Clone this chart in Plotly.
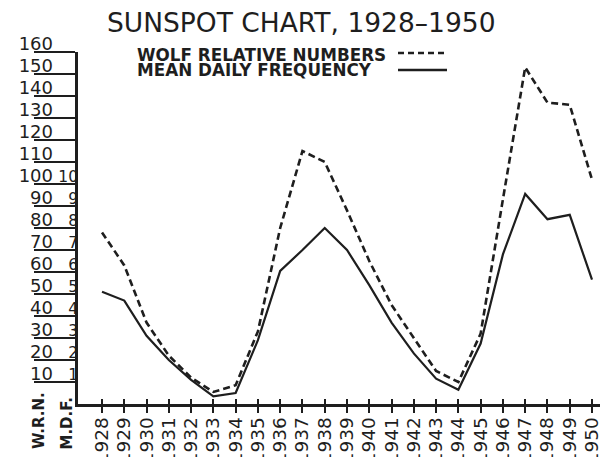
import plotly.graph_objects as go

years = list(range(1928, 1951))
year_labels = [str(y) for y in years]

# Wolf relative numbers (dashed)
wolf = [78, 63, 37, 22, 12, 5.5, 8.5, 33, 80, 115, 110, 88, 65, 45, 30, 15, 10, 32, 93, 153, 137, 136, 102]
# Mean daily frequency (solid)
mdf = [5.1, 4.7, 3.1, 2.0, 1.1, 0.35, 0.5, 2.9, 6.05, 7.0, 8.0, 7.0, 5.4, 3.7, 2.3, 1.15, 0.65, 2.75, 6.8, 9.55, 8.4, 8.6, 5.65]

wrn_ticks = list(range(10, 170, 10))
wrn_labels = [str(v) for v in wrn_ticks]
mdf_ticks = list(range(1, 11))
mdf_labels = [str(v) for v in mdf_ticks]

INK = "#1e1e1e"
FONT = "DejaVu Sans"

W, H = 601, 457
L, R, T, B = 0, 1, 52, 53
PW, PH = W - L - R, H - T - B
AX = 78  # pixel x of the vertical axis
xr = [1926.922, 1950.359]


def px(x):
    return (x - L) / PW


def py(y):
    return (H - B - y) / PH


fig = go.Figure()
fig.add_trace(go.Scatter(x=years, y=wolf, mode="lines", xaxis="x", yaxis="y",
                         line=dict(color=INK, width=2.6, dash="7px,4px"),
                         showlegend=False, hoverinfo="skip"))
fig.add_trace(go.Scatter(x=years, y=mdf, mode="lines", xaxis="x2", yaxis="y2",
                         line=dict(color=INK, width=2.2),
                         showlegend=False, hoverinfo="skip"))
# empty trace that registers the W.R.N. label axis
fig.add_trace(go.Scatter(x=[None], y=[None], xaxis="x", yaxis="y3", showlegend=False, hoverinfo="skip"))

common = dict(showgrid=False, zeroline=False, automargin=False)
fig.update_layout(
    template="none",
    width=W, height=H,
    margin=dict(l=L, r=R, t=T, b=B, pad=0, autoexpand=False),
    paper_bgcolor="white", plot_bgcolor="rgba(0,0,0,0)",
    font=dict(family=FONT, color=INK),
    xaxis=dict(domain=[px(AX), 1], range=xr, tickmode="array", tickvals=years, ticktext=year_labels,
               tickangle=-90, ticks="outside", ticklen=6, tickwidth=1.5, tickcolor=INK,
               showline=True, linewidth=2.5, linecolor=INK, ticklabeloverflow="allow",
               ticklabelstandoff=-3,
               tickfont=dict(size=18.5, family=FONT, color=INK), **common),
    xaxis2=dict(domain=[px(AX), 1], range=xr, overlaying="x", anchor="y", side="bottom", tickmode="array",
                tickvals=years, ticks="inside", ticklen=5, tickwidth=1.5, tickcolor=INK,
                showticklabels=False, showline=False, **common),
    yaxis=dict(range=[0, 160], tickmode="array", tickvals=wrn_ticks, showticklabels=False,
               ticks="outside", ticklen=41, tickwidth=2, tickcolor=INK,
               showline=True, linewidth=2.5, linecolor=INK, **common),
    yaxis3=dict(range=[0, 160], overlaying="y", anchor="free", position=px(53), side="left",
                tickmode="array", tickvals=wrn_ticks, ticktext=wrn_labels, ticks="",
                showline=False, tickfont=dict(size=18, family=FONT, color=INK),
                ticklabelshift=-8, ticklabeloverflow="allow", **common),
    yaxis2=dict(range=[0, 16], overlaying="y", anchor="free", position=px(AX), side="left",
                tickmode="array", tickvals=mdf_ticks, ticktext=mdf_labels, ticks="",
                showline=False, tickfont=dict(size=15.5, family=FONT, color=INK),
                ticklabelshift=-7, ticklabeloverflow="allow", **common),
)

# long scale rules under the W.R.N. / M.D.F. labels, one per W.R.N. tick value
for v in wrn_ticks:
    fig.add_shape(type="line", xref="paper", yref="y", x0=px(37), x1=px(AX), y0=v, y1=v,
                  line=dict(color=INK, width=2))

annotations = [
    dict(text="SUNSPOT CHART, 1928–1950", x=px(301), y=py(22), xanchor="center", yanchor="middle",
         font=dict(size=26.5, family=FONT, color=INK)),
    dict(text="<b>WOLF RELATIVE NUMBERS</b>", x=px(135), y=py(55.5), xanchor="left", yanchor="middle",
         font=dict(size=16.8, family=FONT, color=INK)),
    dict(text="<b>MEAN DAILY FREQUENCY</b>", x=px(135), y=py(70), xanchor="left", yanchor="middle",
         font=dict(size=16.8, family=FONT, color=INK)),
    dict(text="<b>W.R.N.</b>", x=px(39), y=py(421), xanchor="center", yanchor="middle", textangle=-90,
         font=dict(size=15, family=FONT, color=INK)),
    dict(text="<b>M.D.F.</b>", x=px(66.5), y=py(423), xanchor="center", yanchor="middle", textangle=-90,
         font=dict(size=15, family=FONT, color=INK)),
]
for a in annotations:
    a.update(xref="paper", yref="paper", showarrow=False)
fig.update_layout(annotations=annotations)

fig.add_shape(type="line", xref="paper", yref="paper", x0=px(398), x1=px(447), y0=py(53), y1=py(53),
              line=dict(color=INK, width=2.4, dash="6px,4px"))
fig.add_shape(type="line", xref="paper", yref="paper", x0=px(398), x1=px(447), y0=py(70), y1=py(70),
              line=dict(color=INK, width=2.4))

fig.write_html("out.html", config={"displayModeBar": False},
               post_script="document.body.style.margin='0';")
